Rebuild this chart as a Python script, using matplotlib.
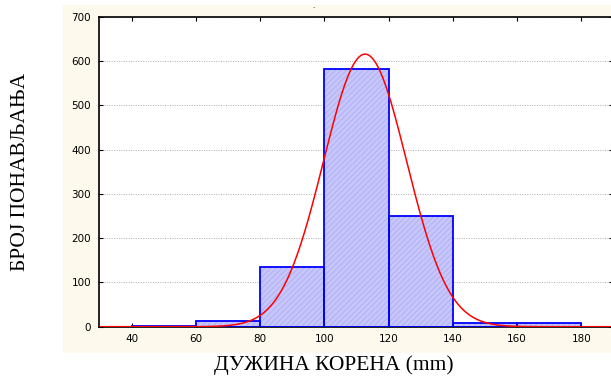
import matplotlib
matplotlib.use("Agg")
import matplotlib.pyplot as plt
import numpy as np
from matplotlib.patches import Rectangle

# Data
bin_edges = [40, 60, 80, 100, 120, 140, 160, 180]
counts = [2, 12, 136, 582, 251, 9, 8]
fit_mean = 112.7
fit_sd = 12.95
fit_n = sum(counts)
x_ticks = [40, 60, 80, 100, 120, 140, 160, 180]
y_ticks = [0, 100, 200, 300, 400, 500, 600, 700]
x_label = "ДУЖИНА КОРЕНА (mm)"
y_label = "БРОЈ ПОНАВЉАЊА"

W, H = 611, 376
fig = plt.figure(figsize=(W / 100, H / 100), dpi=100)
fig.patch.set_facecolor("white")

# cream panel
fig.patches.append(Rectangle((63 / W, (H - 353) / H), 1 - 63 / W, (353 - 5) / H,
                             transform=fig.transFigure, facecolor="#fdf9ec",
                             edgecolor="none", zorder=-10))

ax = fig.add_axes([99.4 / W, (H - 326.7) / H, 514 / W, 309.7 / H])
ax.set_facecolor("white")

lefts = bin_edges[:-1]
widths = [bin_edges[i + 1] - bin_edges[i] for i in range(len(counts))]
plt.rcParams['hatch.linewidth'] = 0.5
ax.bar(lefts, counts, width=widths, align="edge", facecolor="#c6c6fc",
       edgecolor="#aaaaee", hatch="//////", linewidth=0, zorder=2)
ax.bar(lefts, counts, width=widths, align="edge", facecolor="none",
       edgecolor="#0000ff", linewidth=1.3, zorder=3)

xs = np.linspace(30, 190, 600)
bw = widths[0]
ys = fit_n * bw / (fit_sd * np.sqrt(2 * np.pi)) * np.exp(-0.5 * ((xs - fit_mean) / fit_sd) ** 2)
ax.plot(xs, ys, color="#ff0000", lw=1.1, zorder=4)

ax.set_xlim(30, 190)
ax.set_ylim(0, 700)
ax.set_xticks(x_ticks)
ax.set_yticks(y_ticks)
ax.yaxis.grid(True, linestyle=(0, (1, 1.5)), color="#b0b0b0", lw=0.7, zorder=1)
ax.set_axisbelow(True)
ax.tick_params(direction="in", top=True, right=True, length=3, width=0.8,
               labelsize=7.5, colors="black")
ax.tick_params(axis="x", pad=5)
ax.tick_params(axis="y", pad=6)
for lbl in ax.get_xticklabels() + ax.get_yticklabels():
    lbl.set_fontfamily("DejaVu Sans")
for s in ax.spines.values():
    s.set_linewidth(1.2)
    s.set_color("black")

fig.text(334 / W, (H - 365) / H, x_label, ha="center", va="center",
         fontfamily="Liberation Serif", fontsize=15.5)
fig.text(21 / W, (H - 172) / H, y_label, ha="center", va="center", rotation=90,
         fontfamily="Liberation Serif", fontsize=15.5)
fig.text(313 / W, (H - 6) / H, ".", ha="center", va="center", fontsize=5)

fig.savefig("out.png", dpi=100)
